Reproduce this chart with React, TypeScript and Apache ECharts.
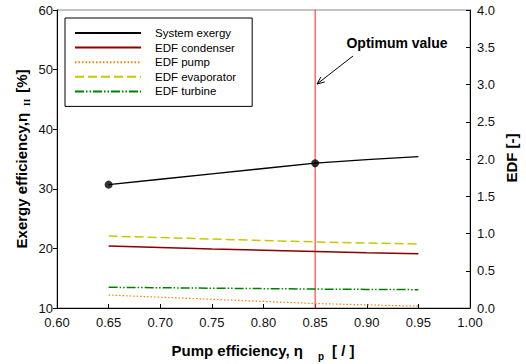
import React, { useEffect, useRef } from "react";
import * as echarts from "echarts";

const pumpEff = [0.65, 0.7, 0.75, 0.8, 0.85, 0.9, 0.95];
const systemExergy = [30.7, 31.6, 32.5, 33.4, 34.3, 34.9, 35.4];
const edfCondenser = [0.832, 0.812, 0.793, 0.775, 0.757, 0.742, 0.729];
const edfPump = [0.174, 0.145, 0.117, 0.088, 0.06, 0.042, 0.025];
const edfEvaporator = [0.966, 0.945, 0.926, 0.906, 0.887, 0.872, 0.859];
const edfTurbine = [0.278, 0.272, 0.266, 0.26, 0.254, 0.25, 0.246];
const markedX = [0.65, 0.85];
const optimumX = 0.85;
const xTicks = { min: 0.6, max: 1.0, interval: 0.05 };
const yLeftTicks = { min: 10, max: 60, interval: 10 };
const yRightTicks = { min: 0, max: 4, interval: 0.5 };

const FONT = "Liberation Sans, Arial, sans-serif";

export default function App() {
  const ref = useRef<HTMLDivElement>(null);
  useEffect(() => {
    if (!ref.current) return;
    const chart = echarts.init(ref.current, null, { renderer: "svg" });
    const pair = (ys: number[]) => pumpEff.map((x, i) => [x, ys[i]]);
    const marked = markedX.map((mx) => [mx, systemExergy[pumpEff.indexOf(mx)]]);

    const ax0 = 353, ay0 = 56, ax1 = 317, ay1 = 84;
    const dx = ax1 - ax0, dy = ay1 - ay0;
    const len = Math.sqrt(dx * dx + dy * dy);
    const ux = dx / len, uy = dy / len;
    const wing = (ang: number) => {
      const c = Math.cos(ang), s = Math.sin(ang);
      const rx = -(ux * c - uy * s), ry = -(ux * s + uy * c);
      return [ax1 + rx * 8, ay1 + ry * 8];
    };

    const labelStyle = { color: "#111", fontSize: 13, fontFamily: FONT };

    chart.setOption({
      animation: false,
      grid: {
        left: 57,
        right: 56,
        top: 10,
        bottom: 56,
        show: true,
        borderColor: "#888",
        borderWidth: 1,
        backgroundColor: "transparent",
      },
      legend: {
        orient: "vertical",
        left: 65,
        top: 18,
        data: ["System exergy", "EDF condenser", "EDF pump", "EDF evaporator", "EDF turbine"],
        itemWidth: 66,
        itemHeight: 12,
        itemGap: 2.6,
        padding: [9, 16, 9, 9],
        borderColor: "#000",
        borderWidth: 1,
        backgroundColor: "#fff",
        itemStyle: { opacity: 0 },
        textStyle: { fontSize: 11.5, fontFamily: FONT, color: "#000", padding: [0, 0, 0, 9], lineHeight: 12 },
      },
      xAxis: {
        type: "value",
        min: xTicks.min,
        max: xTicks.max,
        interval: xTicks.interval,
        axisLine: { lineStyle: { color: "#000", width: 1 } },
        axisTick: { inside: true, length: 4, lineStyle: { color: "#000" } },
        splitLine: { show: false },
        axisLabel: { ...labelStyle, margin: 8, formatter: (v: number) => v.toFixed(2) },
      },
      yAxis: [
        {
          type: "value",
          min: yLeftTicks.min,
          max: yLeftTicks.max,
          interval: yLeftTicks.interval,
          axisLine: { show: true, lineStyle: { color: "#000", width: 1 } },
          axisTick: { show: true, inside: false, length: 4, lineStyle: { color: "#000" } },
          splitLine: { show: false },
          axisLabel: { ...labelStyle, margin: 4 },
        },
        {
          type: "value",
          position: "right",
          min: yRightTicks.min,
          max: yRightTicks.max,
          interval: yRightTicks.interval,
          axisLine: { show: true, lineStyle: { color: "#000", width: 1 } },
          axisTick: { show: true, inside: true, length: 4, lineStyle: { color: "#000" } },
          splitLine: { show: false },
          axisLabel: { ...labelStyle, margin: 7, formatter: (v: number) => v.toFixed(1) },
        },
      ],
      series: [
        {
          name: "optimum",
          type: "line",
          data: [
            [optimumX, yLeftTicks.min],
            [optimumX, yLeftTicks.max],
          ],
          symbol: "none",
          silent: true,
          lineStyle: { color: "#ff2020", width: 1 },
          z: 1,
        },
        {
          name: "System exergy",
          type: "line",
          data: pair(systemExergy),
          symbol: "none",
          lineStyle: { color: "#000", width: 1.4 },
          itemStyle: { color: "#000" },
          z: 3,
        },
        {
          name: "EDF condenser",
          type: "line",
          yAxisIndex: 1,
          data: pair(edfCondenser),
          symbol: "none",
          lineStyle: { color: "#8b0000", width: 1.5 },
          itemStyle: { color: "#8b0000" },
        },
        {
          name: "EDF pump",
          type: "line",
          yAxisIndex: 1,
          data: pair(edfPump),
          symbol: "none",
          lineStyle: { color: "#ff8000", width: 1.2, type: [1.5, 2] },
          itemStyle: { color: "#ff8000" },
        },
        {
          name: "EDF evaporator",
          type: "line",
          yAxisIndex: 1,
          data: pair(edfEvaporator),
          symbol: "none",
          lineStyle: { color: "#c8c800", width: 1.5, type: [9, 4] },
          itemStyle: { color: "#c8c800" },
        },
        {
          name: "EDF turbine",
          type: "line",
          yAxisIndex: 1,
          data: pair(edfTurbine),
          symbol: "none",
          lineStyle: { color: "#008000", width: 1.5, type: [9, 2, 1.5, 2, 1.5, 2] },
          itemStyle: { color: "#008000" },
        },
        {
          name: "markers",
          type: "scatter",
          data: marked,
          symbol: "circle",
          symbolSize: 8,
          itemStyle: { color: "#000" },
          z: 5,
        },
      ],
      graphic: [
        {
          type: "text",
          x: 263,
          y: 350,
          style: {
            text: "{b|Pump efficiency, η}{s|p}{b|[ / ]}",
            align: "center",
            verticalAlign: "middle",
            rich: {
              b: { fontSize: 15, fontWeight: "bold", fontFamily: FONT, fill: "#000" },
              s: { fontSize: 10, fontWeight: "bold", fontFamily: FONT, fill: "#000", padding: [12, 8, 0, 15] },
            },
          },
        },
        {
          type: "text",
          x: 21,
          y: 159,
          rotation: Math.PI / 2,
          style: {
            text: "{b|Exergy efficiency,η}{s|II}{b|[%]}",
            align: "center",
            verticalAlign: "middle",
            rich: {
              b: { fontSize: 15, fontWeight: "bold", fontFamily: FONT, fill: "#000" },
              s: { fontSize: 9, fontWeight: "bold", fontFamily: "Liberation Serif, serif", fill: "#000", padding: [11, 6, 0, 7] },
            },
          },
        },
        {
          type: "text",
          x: 511,
          y: 158,
          rotation: Math.PI / 2,
          style: {
            text: "EDF [-]",
            align: "center",
            verticalAlign: "middle",
            fontSize: 15,
            fontWeight: "bold",
            fontFamily: FONT,
            fill: "#000",
          },
        },
        {
          type: "text",
          x: 397,
          y: 43,
          style: {
            text: "Optimum value",
            align: "center",
            verticalAlign: "middle",
            fontSize: 14,
            fontWeight: "bold",
            fontFamily: FONT,
            fill: "#000",
          },
        },
        {
          type: "line",
          shape: { x1: ax0, y1: ay0, x2: ax1, y2: ay1 },
          style: { stroke: "#000", lineWidth: 1 },
        },
        {
          type: "polyline",
          shape: { points: [wing(0.4), [ax1, ay1], wing(-0.4)] },
          style: { stroke: "#000", lineWidth: 1, fill: null },
        },
      ],
    });
    return () => chart.dispose();
  }, []);
  return (
    <div
      ref={ref}
      style={{ position: "absolute", left: 0, top: 0, width: 526, height: 364 }}
    />
  );
}
